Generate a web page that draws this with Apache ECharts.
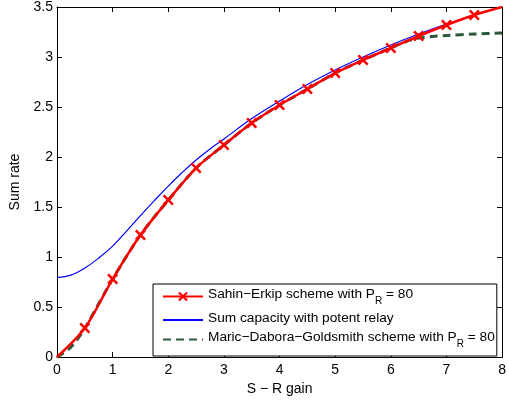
<!DOCTYPE html>
<html>
<head>
<meta charset="utf-8">
<script src="https://cdn.jsdelivr.net/npm/echarts@6/dist/echarts.min.js"></script>
<style>html,body{margin:0;padding:0;background:#fff;}#c{width:509px;height:401px;}</style>
</head>
<body>
<div id="c"></div>
<script>
// Sahin-Erkip scheme (red, with x markers)
var seX = [0, 0.5, 1, 1.5, 2, 2.5, 3, 3.5, 4, 4.5, 5, 5.5, 6, 6.5, 7, 7.5, 8];
var seY = [0, 0.29, 0.78, 1.22, 1.57, 1.89, 2.12, 2.34, 2.52, 2.68, 2.84, 2.97, 3.09, 3.21, 3.32, 3.42, 3.5];
// Sum capacity with potent relay (blue)
var scX = [0, 0.25, 0.5, 0.75, 1, 1.25, 1.5, 1.75, 2, 2.25, 2.5, 2.75, 3, 3.5, 4, 4.5, 5, 5.5, 6, 6.5, 7, 7.5, 8];
var scY = [0.795, 0.82, 0.89, 0.99, 1.11, 1.26, 1.415, 1.565, 1.71, 1.845, 1.97, 2.08, 2.18, 2.385, 2.56, 2.725, 2.87, 3.0, 3.12, 3.23, 3.33, 3.42, 3.5];
// Maric-Dabora-Goldsmith scheme (green dashed)
var mdX = [0, 0.25, 0.5, 1, 1.5, 2, 2.5, 3, 3.5, 4, 4.5, 5, 5.5, 6, 6.25, 6.5, 6.75, 7, 7.5, 8];
var mdY = [0, 0.1, 0.29, 0.78, 1.22, 1.57, 1.89, 2.12, 2.34, 2.52, 2.68, 2.84, 2.97, 3.09, 3.15, 3.19, 3.205, 3.215, 3.23, 3.24];
var xTicks = [0, 1, 2, 3, 4, 5, 6, 7, 8];
var yTicks = [0, 0.5, 1, 1.5, 2, 2.5, 3, 3.5];
var names = ['Sahin\u2212Erkip scheme with P_R = 80', 'Sum capacity with potent relay', 'Maric\u2212Dabora\u2212Goldsmith scheme with P_R = 80'];

function pairs(xs, ys) { return xs.map(function (x, i) { return [x, ys[i]]; }); }
var seData = pairs(seX, seY).map(function (p, i) {
  return (i === 0 || i === seX.length - 1) ? { value: p, symbol: 'none' } : { value: p };
});

var FONT = 'Liberation Sans, Arial, Helvetica, sans-serif';
var X_SYM = 'path://M0,1.6 L1.6,0 L5,3.4 L8.4,0 L10,1.6 L6.6,5 L10,8.4 L8.4,10 L5,6.6 L1.6,10 L0,8.4 L3.4,5 Z';

var chart = echarts.init(document.getElementById('c'), null, { renderer: 'canvas' });
var axisCommon = {
  type: 'value',
  axisLine: { show: true, onZero: false, lineStyle: { color: '#000', width: 1 } },
  axisTick: { show: true, inside: true, length: 5, lineStyle: { color: '#000' } },
  splitLine: { show: false }
};
var labelStyle = { color: '#000', fontSize: 14, fontFamily: FONT };
chart.setOption({
  animation: false,
  backgroundColor: '#fff',
  grid: { left: 57, right: 6, top: 7, bottom: 43 },
  xAxis: [
    Object.assign({}, axisCommon, {
      min: 0, max: 8, interval: 1, position: 'bottom',
      axisLabel: Object.assign({ margin: 6, formatter: function (v) { return xTicks.indexOf(v) >= 0 ? String(v) : ''; } }, labelStyle),
      name: 'S \u2212 R gain', nameLocation: 'middle', nameGap: 23,
      nameTextStyle: { color: '#000', fontSize: 14, fontFamily: FONT }
    }),
    Object.assign({}, axisCommon, { min: 0, max: 8, interval: 1, position: 'top', axisLabel: { show: false } })
  ],
  yAxis: [
    Object.assign({}, axisCommon, {
      min: 0, max: 3.5, interval: 0.5, position: 'left',
      axisLabel: Object.assign({ margin: 4, formatter: function (v) { return yTicks.indexOf(v) >= 0 ? String(v) : ''; } }, labelStyle),
      name: 'Sum rate', nameLocation: 'middle', nameGap: 25,
      nameTextStyle: { color: '#000', fontSize: 14, fontFamily: FONT }
    }),
    Object.assign({}, axisCommon, { min: 0, max: 3.5, interval: 0.5, position: 'right', axisLabel: { show: false } })
  ],
  legend: {
    orient: 'vertical',
    left: 153, top: 284,
    padding: [3, 2, 7, 9],
    itemGap: 5,
    itemWidth: 40, itemHeight: 12,
    backgroundColor: '#fff',
    borderColor: '#000', borderWidth: 1, borderRadius: 0,
    selectedMode: false,
    data: [
      { name: names[0] },
      { name: names[1], itemStyle: { opacity: 0 } },
      { name: names[2], itemStyle: { opacity: 0 } }
    ],
    formatter: function (n) {
      var parts = n.split('P_R');
      if (parts.length === 2) return '{t|' + parts[0] + 'P}{s|R}{t|' + parts[1] + '}';
      return '{t|' + n + '}';
    },
    textStyle: {
      color: '#000', fontSize: 13.7, fontFamily: FONT,
      rich: {
        t: { fontSize: 13.7, fontFamily: FONT, color: '#000', verticalAlign: 'top', lineHeight: 18 },
        s: { fontSize: 10, fontFamily: FONT, color: '#000', padding: [9, 0, 0, 0], lineHeight: 18 }
      }
    }
  },
  series: [
    {
      name: names[2], type: 'line', data: pairs(mdX, mdY), smooth: 0.3, symbol: 'none', z: 3,
      lineStyle: { color: '#2b5a3b', width: 3, type: [8, 5] }, itemStyle: { color: '#2b5a3b' }
    },
    {
      name: names[1], type: 'line', data: pairs(scX, scY), smooth: 0.4, symbol: 'none', z: 2,
      lineStyle: { color: '#0000ff', width: 1.2 }, itemStyle: { color: '#0000ff' }
    },
    {
      name: names[0], type: 'line', data: seData, smooth: 0.3, symbol: X_SYM, symbolSize: 11, showAllSymbol: true, z: 4,
      lineStyle: { color: '#ff0000', width: 2.5 }, itemStyle: { color: '#ff0000' }
    }
  ]
});
</script>
</body>
</html>
